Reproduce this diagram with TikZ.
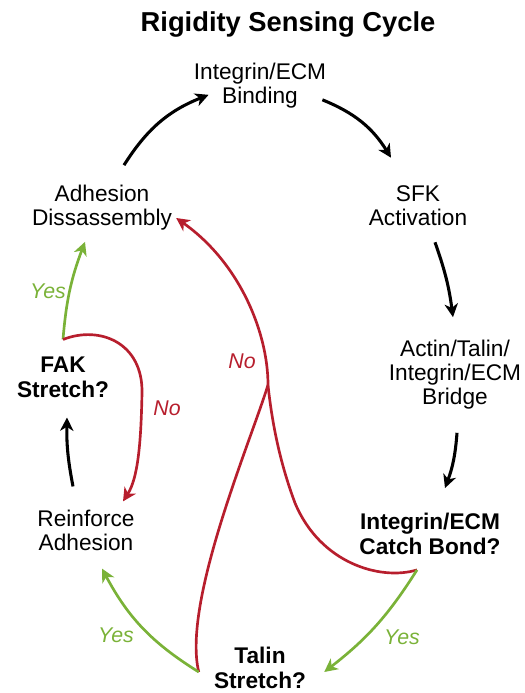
\documentclass[tikz,border=0pt]{standalone}
\usepackage{fontspec}
\setmainfont{Liberation Sans}
\usepackage{xcolor}
\usepackage{tikz}
\usetikzlibrary{arrows.meta, calc}
\definecolor{nored}{RGB}{183,30,45}
\definecolor{yesgreen}{RGB}{122,178,56}

\begin{document}
\begin{tikzpicture}[x=0.75pt, y=0.75pt,
    stage/.style={align=center, inner sep=0pt, font=\fontsize{17}{18}\selectfont},
    query/.style={align=center, inner sep=0pt, font=\fontsize{17}{18.5}\selectfont\bfseries},
    flow/.style={-{Stealth[length=10pt, width=10pt, inset=3pt]}, line width=2.3pt, draw=black},
    yesline/.style={flow, line width=2pt, draw=yesgreen},
    noline/.style={line width=2pt, draw=nored},
    answer/.style={font=\fontsize{16}{16}\selectfont\itshape}
]
\useasboundingbox (0,0) rectangle (525,693);
\node[font=\fontsize{20.5}{21}\selectfont\bfseries, anchor=base] (title) at (288,661) {Rigidity Sensing Cycle};
\node[stage] (bind)   at (260,607) {Integrin/ECM\\Binding};
\node[stage] (sfk)    at (418,487) {SFK\\Activation};
\node[stage] (bridge) at (455,318) {Actin/Talin/\\Integrin/ECM\\Bridge};
\node[query] (catch)  at (430,159) {Integrin/ECM\\Catch Bond?};
\node[query] (talin)  at (260,25)  {Talin\\Stretch?};
\node[stage] (reinf)  at (86,163)  {Reinforce\\Adhesion};
\node[query] (fak)    at (63,316)  {FAK\\Stretch?};
\node[stage] (disas)  at (102,485) {Adhesion\\Dissassembly};
\coordinate (fakout)   at ($(fak.north)+(0,17)$);
\coordinate (catchout) at ($(catch.south)+(-13,-15)$);
\coordinate (talinout) at ($(talin.west)+(-15,-4)$);
\coordinate (merge)    at (268,308);
\draw[flow] ($(disas.north)+(22,20)$) to[bend left=18] ($(bind.south west)+(15,14)$);
\draw[flow] ($(bind.south east)+(-4,9)$) to[bend left=18] ($(sfk.north)+(-27,28)$);
\draw[flow] ($(sfk.south)+(17,-16)$) to[bend left=6] ($(bridge.north)+(-2,23)$);
\draw[flow] ($(bridge.south)+(2,-23)$) to[bend left=8] ($(catch.north)+(15,25)$);
\draw[flow] ($(reinf.north)+(-13,23)$) to[bend left=6] ($(fak.south)+(4,-20)$);
\draw[yesline] (fakout) to[bend left=8] ($(disas.south)+(-17,-11)$);
\draw[noline, -{Stealth[length=10pt, width=10pt, inset=3pt]}] (fakout) .. controls (100,368) and (143,350) .. (142,300)
  .. controls (141,250) and (138,215) .. ($(reinf.north)+(37,8)$);
\draw[noline] (talinout) .. controls (182,90) and (250,250) .. (merge);
\draw[noline, -{Stealth[length=10pt, width=10pt, inset=3pt]}] (catchout) .. controls (380,112) and (320,130) .. (295,190)
  .. controls (280,230) and (272,270) .. (merge)
  .. controls (268,360) and (240,430) .. ($(disas.east)+(4,-10)$);
\draw[yesline] (catchout) to[bend left=10] ($(talin.east)+(18,-4)$);
\draw[yesline] (talinout) to[bend left=15] ($(reinf.south)+(16,-18)$);
\node[answer, text=yesgreen] (yfak)   at (48,402)  {Yes};
\node[answer, text=nored]    (nfak)   at (167,285) {No};
\node[answer, text=nored]    (nbig)   at (242,332) {No};
\node[answer, text=yesgreen] (ycatch) at (402,56)  {Yes};
\node[answer, text=yesgreen] (ytalin) at (116,58)  {Yes};
\end{tikzpicture}
\end{document}
